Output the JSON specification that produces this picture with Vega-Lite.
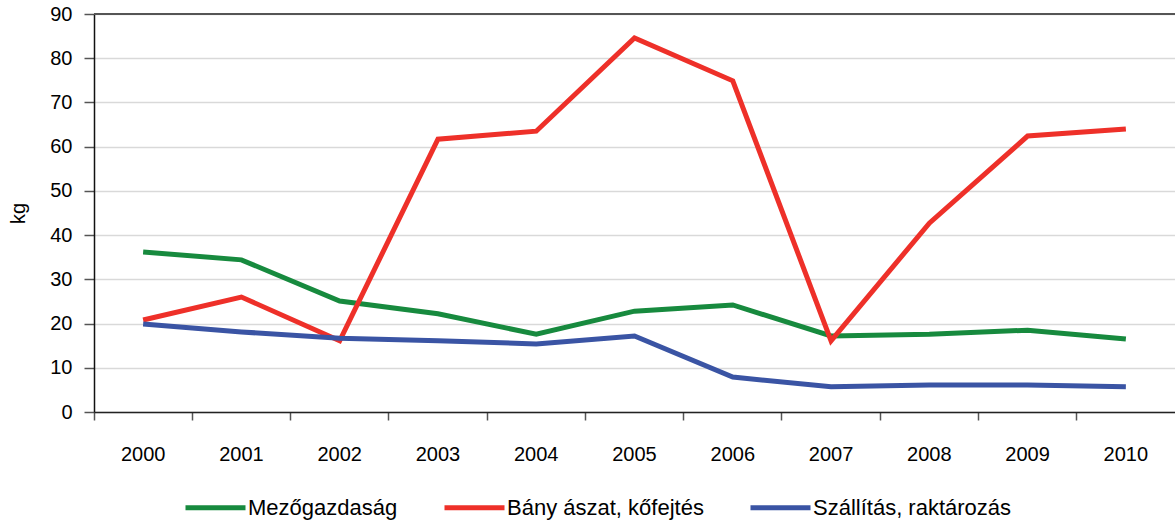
{
  "$schema": "https://vega.github.io/schema/vega-lite/v6.json",
  "width": 1081,
  "height": 398,
  "autosize": {"type": "none"},
  "padding": {"left": 94, "top": 14, "right": 0, "bottom": 108},
  "background": "white",
  "config": {
    "view": {"stroke": null},
    "font": "Liberation Sans",
    "axis": {"labelFont": "Liberation Sans", "titleFont": "Liberation Sans", "labelColor": "#000", "titleColor": "#000", "labelFontSize": 20, "titleFontSize": 20, "titleFontWeight": "normal", "labelOverlap": false}
  },
  "data": {
    "values": [
      {"year": "2000", "series": "Mezőgazdaság", "kg": 36.2},
      {"year": "2001", "series": "Mezőgazdaság", "kg": 34.4},
      {"year": "2002", "series": "Mezőgazdaság", "kg": 25.1},
      {"year": "2003", "series": "Mezőgazdaság", "kg": 22.2},
      {"year": "2004", "series": "Mezőgazdaság", "kg": 17.6},
      {"year": "2005", "series": "Mezőgazdaság", "kg": 22.8},
      {"year": "2006", "series": "Mezőgazdaság", "kg": 24.2},
      {"year": "2007", "series": "Mezőgazdaság", "kg": 17.2},
      {"year": "2008", "series": "Mezőgazdaság", "kg": 17.6},
      {"year": "2009", "series": "Mezőgazdaság", "kg": 18.5},
      {"year": "2010", "series": "Mezőgazdaság", "kg": 16.5},
      {"year": "2000", "series": "Bány ászat, kőfejtés", "kg": 20.8},
      {"year": "2001", "series": "Bány ászat, kőfejtés", "kg": 26.0},
      {"year": "2002", "series": "Bány ászat, kőfejtés", "kg": 16.1},
      {"year": "2003", "series": "Bány ászat, kőfejtés", "kg": 61.7},
      {"year": "2004", "series": "Bány ászat, kőfejtés", "kg": 63.5},
      {"year": "2005", "series": "Bány ászat, kőfejtés", "kg": 84.6},
      {"year": "2006", "series": "Bány ászat, kőfejtés", "kg": 74.9},
      {"year": "2007", "series": "Bány ászat, kőfejtés", "kg": 16.1},
      {"year": "2008", "series": "Bány ászat, kőfejtés", "kg": 42.7},
      {"year": "2009", "series": "Bány ászat, kőfejtés", "kg": 62.4},
      {"year": "2010", "series": "Bány ászat, kőfejtés", "kg": 64.0},
      {"year": "2000", "series": "Szállítás, raktározás", "kg": 19.9},
      {"year": "2001", "series": "Szállítás, raktározás", "kg": 18.1},
      {"year": "2002", "series": "Szállítás, raktározás", "kg": 16.7},
      {"year": "2003", "series": "Szállítás, raktározás", "kg": 16.1},
      {"year": "2004", "series": "Szállítás, raktározás", "kg": 15.4},
      {"year": "2005", "series": "Szállítás, raktározás", "kg": 17.2},
      {"year": "2006", "series": "Szállítás, raktározás", "kg": 7.9},
      {"year": "2007", "series": "Szállítás, raktározás", "kg": 5.7},
      {"year": "2008", "series": "Szállítás, raktározás", "kg": 6.1},
      {"year": "2009", "series": "Szállítás, raktározás", "kg": 6.1},
      {"year": "2010", "series": "Szállítás, raktározás", "kg": 5.7}
    ]
  },
  "layer": [
    {
      "mark": {"type": "line", "strokeWidth": 5, "strokeCap": "butt", "strokeJoin": "miter"},
      "encoding": {
        "x": {
          "field": "year", "type": "ordinal", "bandPosition": 0.5,
          "scale": {"type": "band", "paddingInner": 0, "paddingOuter": 0},
          "axis": {"title": null, "labelAngle": 0, "bandPosition": 0, "tickSize": 8, "tickColor": "#555", "domainColor": "#222", "domainWidth": 1.5, "tickWidth": 1.5, "labelPadding": 24, "grid": false}
        },
        "y": {
          "field": "kg", "type": "quantitative",
          "scale": {"domain": [0, 90], "nice": false},
          "axis": {"title": "kg", "titleAngle": -90, "titlePadding": 21, "values": [0,10,20,30,40,50,60,70,80,90], "tickSize": 10, "tickColor": "#555", "tickWidth": 1.5, "domainColor": "#111", "domainWidth": 1.5, "labelPadding": 12, "grid": true, "gridColor": "#d9d9d9", "gridWidth": 1.5}
        },
        "color": {
          "field": "series", "type": "nominal",
          "sort": ["Mezőgazdaság", "Bány ászat, kőfejtés", "Szállítás, raktározás"],
          "scale": {"domain": ["Mezőgazdaság", "Bány ászat, kőfejtés", "Szállítás, raktározás"], "range": ["#178a3e", "#ee3029", "#3a54a4"]},
          "legend": {"title": null, "orient": "none", "legendX": 89, "legendY": 461, "direction": "horizontal", "symbolType": "stroke", "symbolSize": 3600, "symbolStrokeWidth": 5, "labelFontSize": 22, "labelFont": "Liberation Sans", "labelColor": "#000", "labelOffset": 0, "labelLimit": 400, "columnPadding": 36, "padding": 0}
        }
      }
    },
    {
      "mark": {"type": "rule", "color": "#555", "strokeWidth": 2},
      "encoding": {"y": {"datum": 90}}
    }
  ]
}
